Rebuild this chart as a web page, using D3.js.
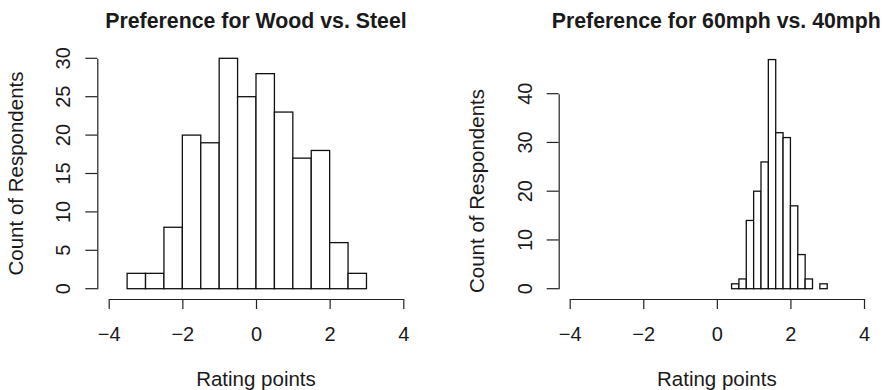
<!DOCTYPE html>
<html>
  <head>
    <meta charset="utf-8">
    <title>Preference histograms</title>
    <style>
      body { margin: 0; background: #fff; }
      text { font-family: "Liberation Sans", Arial, Helvetica, sans-serif; fill: #1a1a1a; }
    </style>
  </head>
  <body>
    <script src="https://d3js.org/d3.v7.min.js"></script>
    <script>
      var w = 886;
      var h = 390;

      // Wood vs. Steel: bin breaks (width 0.5) and counts
      var woodBreaks = [-3.5, -3, -2.5, -2, -1.5, -1, -0.5, 0, 0.5, 1, 1.5, 2, 2.5, 3];
      var woodCounts = [2, 2, 8, 20, 19, 30, 25, 28, 23, 17, 18, 6, 2];
      var woodYTicks = [0, 5, 10, 15, 20, 25, 30];

      // 60mph vs. 40mph: bin breaks (width 0.2) and counts
      var speedBreaks = [0.4, 0.6, 0.8, 1.0, 1.2, 1.4, 1.6, 1.8, 2.0, 2.2, 2.4, 2.6, 2.8, 3.0];
      var speedCounts = [1, 2, 14, 20, 26, 47, 32, 31, 17, 7, 2, 0, 1];
      var speedYTicks = [0, 10, 20, 30, 40];

      var xTicks = [-4, -2, 0, 2, 4];
      var titles = ["Preference for Wood vs. Steel", "Preference for 60mph vs. 40mph"];
      var xLabel = "Rating points";
      var yLabel = "Count of Respondents";

      var svg = d3.select('body').append('svg').attr('width', w).attr('height', h);

      function panel(opt) {
        var g = svg.append('g');
        var x = d3.scaleLinear().domain([-4, 4]).range([opt.x0, opt.x1]);
        var y = d3.scaleLinear().domain([0, opt.ymax]).range([288.7, opt.ytop]);

        var bins = opt.counts.map(function(c, i) {
          return {lo: opt.breaks[i], hi: opt.breaks[i + 1], n: c};
        });

        g.selectAll('rect').data(bins).enter().append('rect')
          .attr('x', function(d) { return x(d.lo); })
          .attr('width', function(d) { return x(d.hi) - x(d.lo); })
          .attr('y', function(d) { return y(d.n); })
          .attr('height', function(d) { return y(0) - y(d.n); })
          .style('fill', 'white')
          .style('stroke', '#111')
          .style('stroke-width', 1.3);

        var xa = g.append('g').attr('transform', 'translate(0,299)')
          .call(d3.axisBottom(x).tickValues(xTicks).tickSize(10).tickSizeOuter(0));
        xa.selectAll('text').attr('y', 42).attr('dy', 0)
          .style('font-size', '20px');

        var ya = g.append('g').attr('transform', 'translate(' + opt.yaxis + ',0)')
          .call(d3.axisLeft(y).tickValues(opt.yticks).tickSize(12).tickSizeOuter(0));
        ya.selectAll('text')
          .attr('x', 0).attr('y', 0).attr('dy', 0)
          .attr('text-anchor', 'middle')
          .attr('transform', function(d) { return 'translate(-27,' + y(d) + ') rotate(-90)'; })
          .style('font-size', '20px');
        ya.selectAll('.tick').attr('transform', null);
        ya.selectAll('.tick line').attr('transform', function(d) { return 'translate(0,' + y(d) + ')'; });

        g.selectAll('.domain, .tick line').style('stroke', '#222').style('stroke-width', 1.2);

        g.append('text')
          .attr('x', opt.tx).attr('y', 28.3)
          .attr('text-anchor', 'middle')
          .style('font-size', '21.3px').style('font-weight', 'bold')
          .text(opt.title);

        g.append('text')
          .attr('x', (opt.x0 + opt.x1) / 2).attr('y', 386)
          .attr('text-anchor', 'middle')
          .style('font-size', '20.5px')
          .text(xLabel);

        g.append('text')
          .attr('transform', 'translate(' + opt.ylx + ',' + opt.lyc + ') rotate(-90)')
          .attr('text-anchor', 'middle')
          .style('font-size', '20.5px')
          .text(yLabel);
      }

      panel({x0: 108.7, x1: 403.3, ymax: 30, ytop: 58.3, yaxis: 97.3, yticks: woodYTicks,
             breaks: woodBreaks, counts: woodCounts, title: titles[0], tx: 256, ylx: 23, lyc: 173.5});
      panel({x0: 569.7, x1: 864, ymax: 40, ytop: 93.7, yaxis: 558.7, yticks: speedYTicks,
             breaks: speedBreaks, counts: speedCounts, title: titles[1], tx: 716.3, ylx: 484, lyc: 191});
    </script>
  </body>
</html>
